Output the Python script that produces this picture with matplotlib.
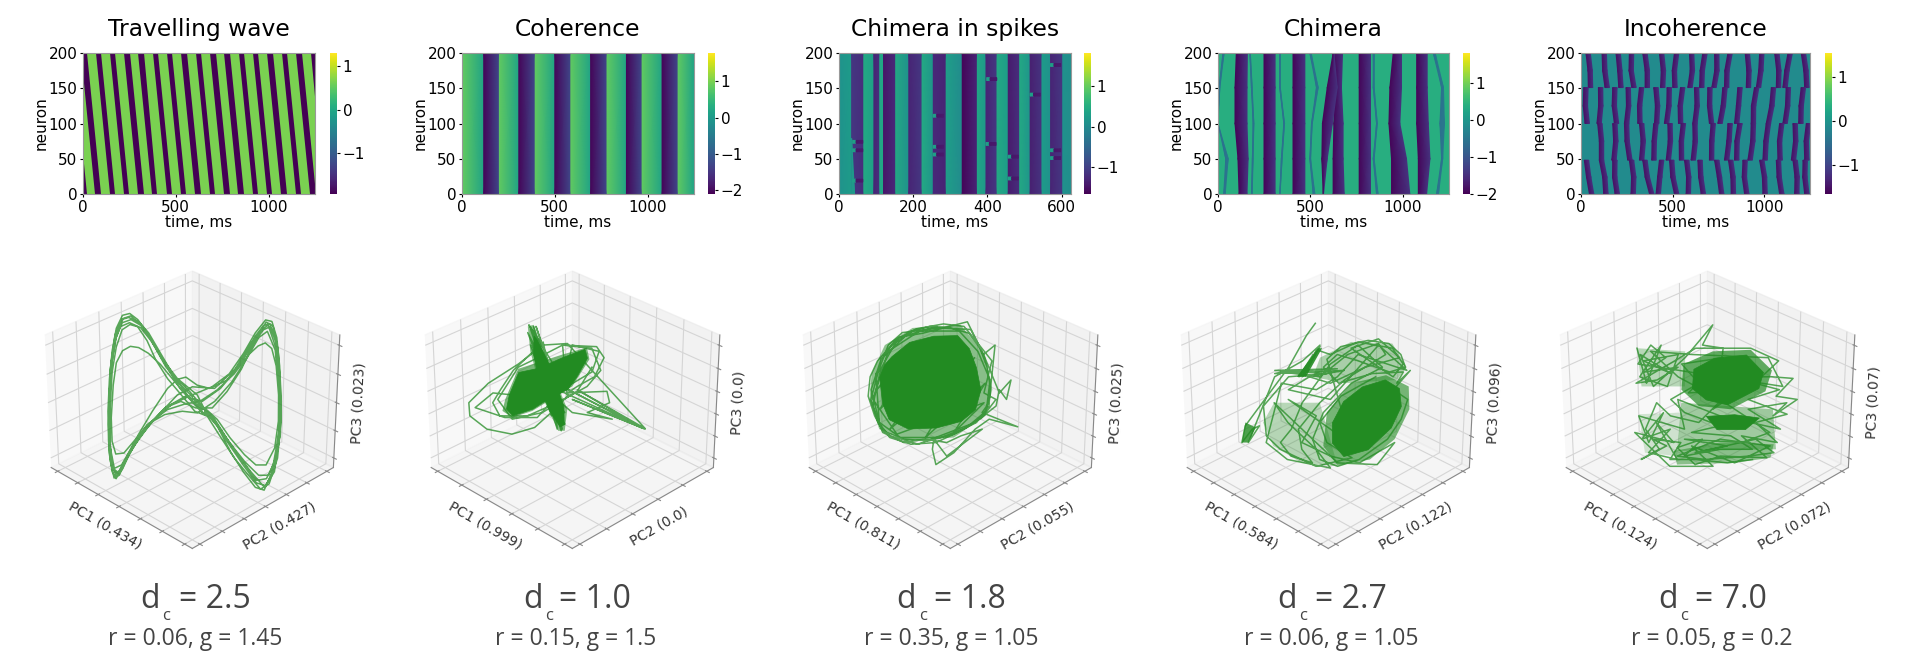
import numpy as np
import matplotlib
matplotlib.use("Agg")
import matplotlib.pyplot as plt
from matplotlib.cm import ScalarMappable
from matplotlib.colors import Normalize
from mpl_toolkits.mplot3d.art3d import Poly3DCollection

W, H = 1914, 663
titles = ["Travelling wave", "Coherence", "Chimera in spikes", "Chimera", "Incoherence"]
dc_labels = ["2.5", "1.0", "1.8", "2.7", "7.0"]
rg_labels = ["r = 0.06, g = 1.45", "r = 0.15, g = 1.5", "r = 0.35, g = 1.05", "r = 0.06, g = 1.05", "r = 0.05, g = 0.2"]
pc1_labels = ["PC1 (0.434)", "PC1 (0.999)", "PC1 (0.811)", "PC1 (0.584)", "PC1 (0.124)"]
pc2_labels = ["PC2 (0.427)", "PC2 (0.0)", "PC2 (0.055)", "PC2 (0.122)", "PC2 (0.072)"]
pc3_labels = ["PC3 (0.023)", "PC3 (0.0)", "PC3 (0.025)", "PC3 (0.096)", "PC3 (0.07)"]
t_max = [1250, 1250, 625, 1250, 1250]
t_ticks = [[0, 500, 1000], [0, 500, 1000], [0, 200, 400, 600], [0, 500, 1000], [0, 500, 1000]]
v_min = [-1.95, -2.1, -1.65, -2.0, -1.65]
v_max = [1.31, 1.78, 1.8, 1.8, 1.55]
cb_ticks = [[-1, 0, 1], [-2, -1, 0, 1], [-1, 0, 1], [-2, -1, 0, 1], [-1, 0, 1]]

# travelling wave: dark stripe left edge at neuron 200 and neuron 0
p1_top = [-85, -9, 68, 145, 222, 297, 376, 453, 530, 607, 686, 762, 840, 916, 993, 1070, 1149, 1226]
p1_bot = [-10, 66, 143, 220, 297, 372, 451, 528, 605, 682, 761, 837, 915, 991, 1068, 1145, 1224, 1301]
p1_width = 29
p1_light, p1_dark = 0.66, -1.95

# coherence
p2_light_start = [0, 196, 389, 581, 776, 965, 1159]
p2_light_end = [117, 306, 500, 693, 886, 1078, 1250]
p2_dark_start = [117, 306, 500, 693, 886, 1078]
p2_dark_end = [196, 389, 581, 776, 965, 1159]

# chimera in spikes
p3_dark_start = [34, 94, 120, 188, 254, 332, 396, 456, 515, 570]
p3_dark_end = [64, 107, 150, 221, 286, 370, 423, 484, 544, 600]
p3_dark_a = [-1.1, -1.3, -1.45, -1.3, -1.25, -1.6, -1.3, -1.4, -1.35, -1.3]
p3_dark_b = [-1.2, -1.2, -1.25, -1.1, -1.3, -1.3, -1.1, -1.2, -1.15, -1.1]
p3_light_start = [0, 64, 107, 150, 221, 286, 370, 423, 484, 544, 600]
p3_light_end = [34, 94, 120, 188, 254, 332, 396, 456, 515, 570, 625]
p3_light_a = [0.1, 0.45, 0.4, 0.45, 0.45, 0.3, 0.4, 0.45, 0.45, 0.25, 0.1]
p3_light_b = [0.25, 0.3, 0.4, 0.1, 0.15, 0.0, 0.2, 0.25, 0.15, 0.1, 0.05]
# short spike detours: time, neuron
p3_spike_t = [254, 254, 254, 37, 37, 37, 515, 396, 456, 456, 570, 570, 570, 398]
p3_spike_n = [111, 67, 56, 74, 62, 19, 141, 71, 53, 22, 62, 51, 183, 163]

# chimera: dark stripes, edges at neurons 200,151,100,50,0
p4_rows = [200, 151, 100, 50, 0]
p4_left = [[99, 92, 92, 108, 114], [249]*5, [406]*5, [623, 632, 627, 623, 623], [764]*5,
           [623, 591, 565, 562, 569], [948, 930, 925, 939, 939], [1075, 1075, 1075, 1084, 1084],
           [1165, 1210, 1201, 1210, 1183], [27, 5, 0, 42, 31], [172, 181, 190, 186, 181],
           [334, 334, 356, 343, 334], [497, 533, 506, 497, 515], [840, 840, 858, 840, 858]]
p4_right = [[159, 157, 157, 163, 157], [309]*5, [470]*5, [674, 668, 677, 677, 683], [825]*5,
            [627, 645, 619, 591, 571], [993, 993, 984, 1020, 1038], [1132, 1132, 1138, 1147, 1129],
            [1175, 1220, 1225, 1216, 1193], [33, 10, 0, 55, 39], [175, 185, 194, 190, 185],
            [337, 337, 360, 347, 336], [504, 542, 510, 501, 524], [846, 845, 862, 845, 866]]

# incoherence: dark blobs per layer of neurons (edge at top, middle and bottom of layer)
p5_layers = [(200, 175, 151), (151, 125, 100), (100, 75, 48), (48, 24, 0)]
p5_top = [[27, 115, 191, 264, 337, 428, 510, 592, 665, 729, 802, 896, 975, 1057, 1130, 1202],
          [15, 95, 173, 246, 319, 397, 470, 543, 619, 692, 774, 856, 947, 1039, 1120, 1202],
          [91, 173, 237, 319, 397, 474, 547, 610, 710, 802, 856, 929, 1011, 1084, 1157, 1230],
          [18, 100, 173, 264, 337, 428, 483, 565, 638, 729, 805, 884, 975, 1066, 1157, 1212]]
p5_mid = [[38, 118, 200, 262, 350, 438, 498, 596, 650, 730, 785, 905, 970, 1068, 1112, 1216],
          [12, 96, 170, 248, 308, 406, 468, 530, 622, 690, 765, 848, 930, 1030, 1116, 1190],
          [100, 178, 240, 328, 388, 476, 536, 612, 702, 796, 840, 926, 998, 1072, 1160, 1218],
          [30, 118, 172, 276, 350, 418, 490, 576, 642, 744, 818, 880, 990, 1070, 1168, 1210]]
p5_bot = [[40, 131, 206, 277, 350, 434, 501, 583, 647, 714, 783, 902, 957, 1066, 1102, 1221],
          [22, 87, 182, 237, 310, 401, 455, 532, 610, 701, 747, 838, 929, 1011, 1102, 1188],
          [100, 168, 255, 319, 386, 465, 537, 601, 701, 783, 838, 911, 993, 1075, 1148, 1221],
          [46, 124, 186, 273, 374, 410, 510, 574, 656, 756, 820, 893, 993, 1084, 1166, 1221]]
p5_width = 24

# phase portraits: projected readings of each trajectory
traj1 = [(375,455),(345,410),(320,360),(298,300),(278,245),(262,212),(245,192),(230,198),(218,240),(211,310),(207,400),(206,500),(209,590),(214,650),(222,698),(232,690),(245,645),(265,590),(295,530),(335,478),(375,450),(415,425),(450,385),(480,320),(505,255),(527,213),(540,218),(549,270),(553,360),(554,470),(550,570),(535,670),(515,733),(498,725),(475,680),(450,620),(425,545),(400,495),
 (375,470),(340,410),(310,355),(285,320),(265,302),(248,298),(232,312),(220,350),(215,420),(213,520),(216,590),(224,628),(240,625),(262,585),(290,535),(325,495),(360,478),(390,470),(425,435),(460,385),(490,325),(510,297),(525,287),(538,305),(546,360),(549,450),(547,530),(538,610),(520,660),(500,660),(478,630),(450,580),(425,525),(400,490),
 (400,510),(365,450),(335,385),(310,320),(285,255),(265,220),(243,205),(228,212),(216,260),(210,340),(209,440),(210,540),(213,620),(219,670),(230,682),(245,640),(268,570),(295,500),(325,430),(345,402),(362,395),(385,420),(410,430),(445,405),(478,340),(505,265),(522,232),(535,225),(546,265),(552,360),(552,470),(549,570),(536,680),(518,720),(500,712),(475,660),(448,600),(425,545),(405,510),
 (385,450),(345,400),(315,340),(290,280),(268,238),(245,222),(226,235),(215,285),(208,370),(208,480),(211,580),(216,650),(226,695),(238,672),(255,615),(282,550),(320,490),(360,455),(395,470),(432,430),(470,360),(500,290),(522,245),(536,235),(548,290),(552,400),(552,500),(546,600),(530,690),(516,725),(490,680),(462,625),(438,570),(412,510),
 (395,505),(350,430),(318,350),(292,282),(270,232),(248,212),(230,222),(218,270),(210,360),(209,470),(212,600),(218,665),(228,688),(245,640),(272,575),(305,515),(345,450),(375,425),(420,430),(462,370),(495,290),(518,245),(532,230),(546,300),(551,430),(548,560),(534,660),(520,700),(500,705),(472,645),(445,585),(420,525),(392,480),
 (370,440),(340,395),(312,335),(288,270),(266,225),(247,200),(232,208),(220,250),(212,330),(208,430),(208,540),(211,625),(218,680),(226,700),(240,655),(262,600),(290,540),(322,488),(352,470),(382,490),(415,490),(445,440),(475,370),(505,275),(528,220),(542,232),(551,310),(553,420),(552,530),(543,640),(525,715),(508,730),(485,690),(458,640),(430,575),(405,515),
 (380,500),(350,445),(325,400),(300,340),(282,280),(262,235),(246,228),(230,245),(219,300),(212,380),(210,500),(213,610),(222,670),(236,660),(258,600),(285,540),(320,510),(355,500),(385,505),(420,470),(455,410),(485,340),(512,270),(530,250),(545,310),(550,410),(550,520),(542,630),(525,690),(505,690),(478,650),(452,600),(430,555),(405,500),(375,460)]
core2 = [[(992,455),(1010,385),(1050,372),(1100,338),(1145,312),(1150,340),(1128,400),(1110,438),(1070,468),(1040,498),(1000,518),(987,498)],
         [(1040,270),(1046,280),(1062,330),(1075,370),(1102,490),(1103,545),(1095,552),(1074,505),(1056,440),(1040,330)]]
halo2 = [([(1028,240),(1040,235),(1062,320),(1110,500),(1105,565),(1092,565),(1062,470),(1034,320)], 0.55),
         ([(985,470),(1010,375),(1100,330),(1150,308),(1155,345),(1120,430),(1040,505),(1000,525),(980,505)], 0.6)]
traj2 = [(1090,440),(1265,560),(1120,470),(1262,558),(1100,430),(1258,556),(1130,440),(1265,558),(1110,295),(1060,300),(1010,360),(950,420),(912,480),(915,520),(950,560),(1000,575),(1045,555),(1085,500),(1110,460),(1100,300),(1170,305),(1185,340),(1165,400),(1130,430),(1110,450),(1190,445),(1195,480),(1150,510),(1200,530),(1120,510),(1090,470),(960,450),(925,495),(985,525),(1050,525),(1100,440),(1120,300),(1175,320),(1160,385),(1110,430),
 (1030,235),(1058,300),(1045,240),(1070,350),(1034,250),(1052,330),(1028,260),(1065,400),(1038,300),(1076,430),(1098,565),(1080,480),(1105,545),(1070,460),(1090,560),(1085,470),(1105,510),(1078,520),(1040,240),(1090,500),(1034,300),(1100,560),
 (1060,290),(1000,380),(975,440),(960,480),(975,520),(1030,520),(1090,480),(1150,430),(1178,380),(1160,310),(1100,300),(1050,340),(1010,370),(970,470),(1000,530),(1060,510),(1130,445),(1160,370)]
core3 = [[(150,335),(175,290),(210,270),(245,268),(262,310),(272,370),(278,440),(270,500),(250,535),(215,555),(175,558),(148,530),(138,480),(133,400),(140,360)]]
halo3 = [([(140,300),(180,245),(250,235),(285,330),(295,440),(285,520),(240,585),(175,595),(135,560),(120,470),(122,390)], 0.5)]
traj3 = [(140,330),(155,285),(178,255),(205,240),(235,245),(262,262),(278,310),(288,370),(292,430),(290,490),(272,540),(240,575),(205,595),(170,590),(140,565),(128,520),(118,460),(120,400),(130,350),
 (150,300),(185,248),(225,232),(255,240),(270,280),(295,350),(283,450),(300,470),(280,525),(250,565),(215,600),(180,605),(150,585),(133,540),(125,490),(130,430),(135,375),(160,275),(195,262),(260,225),(283,330),(300,300),(290,480),(280,510),(330,553),(290,530),(270,560),(240,630),(215,665),(210,620),(212,590),(230,640),(280,560),(250,580),(230,600),(200,590),(170,600),(140,570),(132,530),(122,470),(132,380),(145,300),(165,260),(220,245),(265,250),(285,340),(305,450),(322,410),(315,470),(305,440),(300,490),(270,540),(190,605),(150,580),(135,545),
 (128,390),(180,300),(130,440),(200,280),(135,500),(240,290),(150,560),(270,340),(200,585),(285,420),(240,570),(283,480),(160,575),(125,470),(145,320),(190,255),(248,255),(275,320),(292,410),(286,505),(258,555),(222,585),(165,585),(135,540),(122,440),(135,345),(170,270),(215,240)]
core4 = [[(762,540),(778,475),(805,430),(838,408),(858,435),(860,490),(845,555),(812,620),(778,640),(762,600)]]
halo4 = [([(745,340),(790,290),(850,295),(870,370),(855,410),(780,420),(735,400)], 0.35),
         ([(680,480),(745,480),(770,670),(720,660),(680,610),(665,540)], 0.3),
         ([(755,510),(790,420),(840,395),(872,430),(872,500),(850,590),(815,650),(770,668),(750,610)], 0.6),
         ([(712,400),(742,310),(748,310),(725,400)], 0.9),
         ([(636,600),(640,540),(655,555),(645,600)], 0.8)]
traj4 = [(738,230),(725,270),(700,370),(640,550),(636,600),(650,560),(660,550),(645,600),(680,400),(720,350),(745,300),(720,400),(735,330),(715,400),(745,305),(722,395),(740,315),(760,330),(800,290),(850,310),(865,360),(850,400),(790,310),(830,280),(860,340),(810,370),(760,420),(700,380),(680,390),(780,380),(730,400),(700,440),(760,470),(830,300),(870,380),(800,330),(770,400),(740,440),(690,420),(670,600),(700,650),(760,675),(740,620),(700,540),(680,480),(720,560),(770,660),(825,665),(850,600),(800,660),(760,640),(720,600),(740,520),(700,470),(760,560),(790,610),
 (755,345),(775,305),(815,285),(845,295),(862,330),(868,370),(845,385),(800,350),(770,330),(750,370),(772,420),(820,390),(865,385),(855,420),(875,380),(850,440),(870,470),(860,530),(840,590),(800,650),(770,670),(745,650),(735,590),(750,510),(790,420),(835,370),(800,300),(760,360),(740,420),(720,480),(705,560),(690,600),(705,640),(735,660),(720,620),(715,560),(745,480),(780,410),(840,330),(830,295),(785,330),(745,400),(690,385),(770,375),(680,380),(755,390),(700,400),(665,490),(670,580),(690,620),(740,670),(790,645),(755,600),(745,540),(775,460),(825,400)]
core5 = [[(1262,375),(1292,340),(1338,330),(1362,385),(1355,435),(1310,485),(1280,470),(1260,435)],
         [(1280,520),(1320,515),(1355,525),(1335,560),(1295,560)]]
halo5 = [([(1248,360),(1290,320),(1345,315),(1375,380),(1365,445),(1315,500),(1270,490),(1245,440)], 0.7),
         ([(1245,480),(1375,500),(1378,620),(1240,625)], 0.4),
         ([(1180,310),(1250,320),(1250,430),(1188,430)], 0.3),
         ([(1235,625),(1300,600),(1375,605),(1370,645),(1320,660),(1240,665)], 0.5),
         ([(1185,515),(1245,510),(1240,640),(1195,630)], 0.18)]
traj5 = [(1180,310),(1195,420),(1215,300),(1185,400),(1225,430),(1240,330),(1190,350),(1230,390),(1185,330),(1205,430),(1250,340),(1290,235),(1275,300),(1305,310),(1300,400),(1375,400),(1405,405),(1380,460),(1410,470),(1375,520),(1395,480),(1340,500),(1385,560),(1300,520),(1240,470),(1250,560),(1185,520),(1200,600),(1220,510),(1190,590),(1230,560),(1200,630),(1240,650),(1210,540),(1235,600),(1180,570),(1230,670),(1290,670),(1260,610),(1320,660),(1370,610),(1300,590),(1240,640),(1280,650),(1340,640),(1375,630),(1350,590),(1265,630),(1310,610),(1250,590),(1330,600),(1370,570),(1300,470),(1240,400),(1200,320),(1260,330),(1370,340),(1390,430),
 (1182,360),(1200,300),(1222,340),(1192,385),(1240,370),(1210,410),(1180,420),(1235,350),(1265,310),(1345,310),(1385,350),(1350,420),(1385,440),(1340,470),(1395,515),(1350,540),(1380,600),(1330,580),(1365,645),(1300,640),(1265,665),(1240,615),(1275,590),(1250,640),(1300,620),(1345,620),(1315,580),(1260,570),(1300,550),(1250,510),(1230,470),(1270,420),(1245,360),(1305,340),(1255,450),(1330,440),(1290,500),(1345,380),(1270,540),(1230,520),(1210,480),(1195,560),(1215,620),(1190,650),(1225,610),(1205,590),(1245,600),(1230,650),(1265,650),(1310,660),(1345,650)]
trajectories = [traj1, traj2, traj3, traj4, traj5]
cores = [[], core2, core3, core4, core5]
halos = [[], halo2, halo3, halo4, halo5]
h_centre = [375, 1120, 235, 757, 1282]
h_span = [290, 290, 205, 205, 205]
v_centre = [474, 480, 480, 480, 480]
v_span = 423
n_ticks_3d = [(7, 7, 5), (6, 6, 6), (7, 7, 6), (7, 7, 6), (7, 7, 6)]

# page layout
hm_left = [83, 462, 839, 1218, 1581]
hm_right = [315, 694, 1071, 1449, 1810]
cb_left = [330, 708, 1084, 1463, 1825]
cb_w = 7
hm_top, hm_bot = 53, 194
centre3d = [188, 568, 946, 1324, 1703]
size3d = 317
cy3d = 407
d_left = [140, 523, 896, 1277, 1658]
c_left = [162, 545, 919, 1299, 1680]
eq_left = [179, 559, 934, 1315, 1695]
rg_centre = [195, 576, 951, 1331, 1712]

GREEN = "forestgreen"
TXT = "#444444"


def box(l, t, r, b):
    return [l / W, 1 - b / H, (r - l) / W, (b - t) / H]


def band(ax, left, right, rows, a, b, norm):
    left, right = np.asarray(left, float), np.asarray(right, float)
    rows = np.asarray(rows, float)
    X = np.column_stack([left, right])
    Y = np.column_stack([rows, rows])
    C = np.column_stack([np.full(len(rows), a), np.full(len(rows), b)])
    ax.pcolormesh(X, Y, C, shading="gouraud", cmap="viridis", norm=norm)


def flat_band(ax, left, right, rows, v, norm):
    X = np.column_stack([left, right])
    Y = np.column_stack([rows, rows])
    ax.pcolormesh(X, Y, [[v]], shading="flat", cmap="viridis", norm=norm, antialiased=True, edgecolor="none")


fig = plt.figure(figsize=(W / 100, H / 100), dpi=100, facecolor="white")

for i in range(5):
    ax3 = fig.add_axes(box(centre3d[i] - size3d / 2, cy3d - size3d / 2, centre3d[i] + size3d / 2, cy3d + size3d / 2), projection="3d")
    ax3.patch.set_alpha(0)
    ax3.view_init(elev=30, azim=-45)
    pts = np.array(trajectories[i], float)
    conv = lambda q: ((q[:, 0] - h_centre[i]) / h_span[i], (v_centre[i] - q[:, 1]) / v_span)
    u, t = conv(pts)
    ax3.plot(u - t, u + t, t, color=GREEN, lw=1.1, alpha=0.75)
    for poly, a in halos[i]:
        uu, tt = conv(np.array(poly, float))
        ax3.add_collection3d(Poly3DCollection([list(zip(uu - tt, uu + tt, tt))], facecolor=GREEN, edgecolor="none", alpha=a))
    for poly in cores[i]:
        uu, tt = conv(np.array(poly, float))
        ax3.add_collection3d(Poly3DCollection([list(zip(uu - tt, uu + tt, tt))], facecolor=GREEN, edgecolor=GREEN, linewidth=0.5))
    ax3.set_xlim(-1, 1)
    ax3.set_ylim(-1, 1)
    ax3.set_zlim(-1, 1)
    nx, ny, nz = n_ticks_3d[i]
    ax3.set_xticks(np.linspace(-0.9, 0.9, nx))
    ax3.set_yticks(np.linspace(-0.9, 0.9, ny))
    ax3.set_zticks(np.linspace(-0.85, 0.85, nz))
    ax3.set_xticklabels([])
    ax3.set_yticklabels([])
    ax3.set_zticklabels([])
    ax3.set_xlabel(pc1_labels[i], fontsize=10, labelpad=-10, color="#333333")
    ax3.set_ylabel(pc2_labels[i], fontsize=10, labelpad=-10, color="#333333")
    ax3.set_zlabel(pc3_labels[i], fontsize=10, labelpad=-12, color="#333333")
    for a in (ax3.xaxis, ax3.yaxis, ax3.zaxis):
        a._axinfo["grid"]["color"] = "#d5d5d5"
        a._axinfo["grid"]["linewidth"] = 0.8
        a.line.set_color("#888888")
    ax3.tick_params(length=2, color="#888888")

for i in range(5):
    ax = fig.add_axes(box(hm_left[i], hm_top, hm_right[i], hm_bot))
    norm = Normalize(v_min[i], v_max[i])
    T = t_max[i]
    if i == 0:
        flat_band(ax, [0, 0], [T, T], [0, 200], p1_light, norm)
        for a, b in zip(p1_top, p1_bot):
            flat_band(ax, [b, a], [b + p1_width, a + p1_width], [0, 200], p1_dark, norm)
    elif i == 1:
        for a, b in zip(p2_light_start, p2_light_end):
            band(ax, [a, a], [b, b], [0, 200], 0.85, 0.15, norm)
        for a, b in zip(p2_dark_start, p2_dark_end):
            band(ax, [a, a], [b, b], [0, 200], -2.05, -1.3, norm)
    elif i == 2:
        for a, b, va, vb in zip(p3_light_start, p3_light_end, p3_light_a, p3_light_b):
            band(ax, [a, a], [b, b], [0, 200], va, vb, norm)
        for a, b, va, vb in zip(p3_dark_start, p3_dark_end, p3_dark_a, p3_dark_b):
            band(ax, [a, a], [b, b], [0, 200], va, vb, norm)
        band(ax, [34, 34], [42, 34], [0, 79], 0.2, 0.2, norm)
        for st, sn in zip(p3_spike_t, p3_spike_n):
            band(ax, [st, st], [st + 9, st + 9], [sn - 2, sn + 2], 0.35, 0.2, norm)
            band(ax, [st + 9, st + 9], [st + 27, st + 27], [sn - 2, sn + 2], -1.45, -1.4, norm)
    elif i == 3:
        band(ax, [0, 0], [T, T], [0, 200], 0.38, 0.38, norm)
        for k, (l, r) in enumerate(zip(p4_left, p4_right)):
            thin = k >= 8
            band(ax, l, r, p4_rows, -0.6 if thin else -1.95, -0.5 if thin else -1.45, norm)
    else:
        band(ax, [0, 0], [T, T], [0, 200], -0.12, -0.12, norm)
        for rows, tops, mids, bots in zip(p5_layers, p5_top, p5_mid, p5_bot):
            for a, m, b in zip(tops, mids, bots):
                band(ax, [a, m, b], [a + p5_width, m + p5_width, b + p5_width], rows, -1.5, -1.2, norm)
    ax.set_xlim(0, T)
    ax.set_ylim(0, 200)
    ax.set_xticks(t_ticks[i])
    ax.set_yticks([0, 50, 100, 150, 200])
    ax.tick_params(labelsize=11, length=2, pad=2)
    ax.set_xlabel("time, ms", fontsize=11, labelpad=0)
    ax.set_ylabel("neuron", fontsize=11, labelpad=0)
    ax.set_title(titles[i], fontsize=16.8, pad=12)
    for s in ax.spines.values():
        s.set_color("#999999")
    cax = fig.add_axes(box(cb_left[i], hm_top, cb_left[i] + cb_w, hm_bot))
    cb = fig.colorbar(ScalarMappable(norm=norm, cmap="viridis"), cax=cax, ticks=cb_ticks[i])
    cb.ax.tick_params(labelsize=11, length=2, pad=2)
    cb.outline.set_visible(False)

    fig.text(d_left[i] / W, 1 - 608 / H, "d", fontsize=23, color=TXT, family="Open Sans", ha="left", va="baseline")
    fig.text(c_left[i] / W, 1 - 620 / H, "c", fontsize=12, color=TXT, family="Open Sans", ha="left", va="baseline")
    fig.text(eq_left[i] / W, 1 - 608 / H, "= " + dc_labels[i], fontsize=23, color=TXT, family="Open Sans", ha="left", va="baseline")
    fig.text(rg_centre[i] / W, 1 - 645 / H, rg_labels[i], fontsize=16.5, color=TXT, family="Open Sans", ha="center", va="baseline")

fig.savefig("out.png", dpi=100)
